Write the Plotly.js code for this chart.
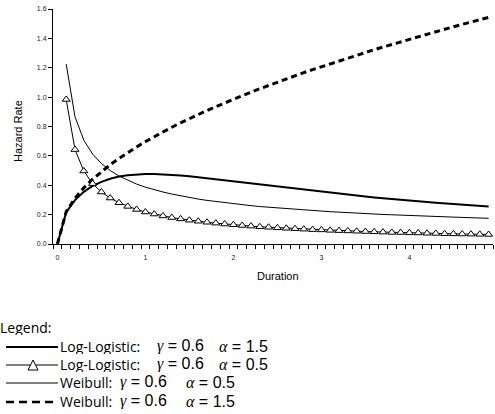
<!DOCTYPE html>
<html><head><meta charset="utf-8">
<script src="https://cdn.plot.ly/plotly-3.0.1.min.js"></script>
<style>html,body{margin:0;padding:0;background:#fff;}#chart{width:495px;height:414px;}</style>
</head><body><div id="chart"></div>
<script>
const duration = [0,0.1,0.2,0.3,0.4,0.5,0.6,0.7,0.8,0.9,1.0,1.1,1.2,1.3,1.4,1.5,1.6,1.7,1.8,1.9,2.0,2.1,2.2,2.3,2.4,2.5,2.6,2.7,2.8,2.9,3.0,3.1,3.2,3.3,3.4,3.5,3.6,3.7,3.8,3.9,4.0,4.1,4.2,4.3,4.4,4.5,4.6,4.7,4.8,4.9];
const logLogisticA15 = [0,0.217,0.299,0.355,0.395,0.423,0.444,0.459,0.468,0.474,0.476,0.476,0.474,0.471,0.466,0.461,0.454,0.448,0.441,0.433,0.426,0.418,0.411,0.403,0.396,0.389,0.381,0.374,0.367,0.360,0.354,0.347,0.341,0.335,0.328,0.323,0.317,0.311,0.306,0.301,0.296,0.291,0.286,0.281,0.277,0.272,0.268,0.264,0.259,0.256];
const logLogisticA05 = [null,0.984,0.643,0.497,0.411,0.354,0.313,0.281,0.256,0.235,0.218,0.204,0.191,0.180,0.171,0.162,0.155,0.148,0.142,0.136,0.131,0.126,0.122,0.117,0.114,0.110,0.107,0.104,0.101,0.098,0.096,0.093,0.091,0.089,0.087,0.085,0.083,0.081,0.079,0.078,0.076,0.075,0.073,0.072,0.070,0.069,0.068,0.067,0.066,0.065];
const weibullA05 = [null,1.225,0.866,0.707,0.612,0.548,0.500,0.463,0.433,0.408,0.387,0.369,0.354,0.340,0.327,0.316,0.306,0.297,0.289,0.281,0.274,0.267,0.261,0.255,0.250,0.245,0.240,0.236,0.231,0.227,0.224,0.220,0.217,0.213,0.210,0.207,0.204,0.201,0.199,0.196,0.194,0.191,0.189,0.187,0.185,0.183,0.181,0.179,0.177,0.175];
const weibullA15 = [0,0.220,0.312,0.382,0.441,0.493,0.540,0.583,0.624,0.661,0.697,0.731,0.764,0.795,0.825,0.854,0.882,0.909,0.935,0.961,0.986,1.010,1.034,1.057,1.080,1.102,1.124,1.146,1.167,1.187,1.207,1.227,1.247,1.266,1.285,1.304,1.323,1.341,1.359,1.377,1.394,1.412,1.429,1.446,1.462,1.479,1.495,1.511,1.527,1.543];
const xTickVals = [0,1,2,3,4];
const xTickText = ['0','1','2','3','4'];
const yTickVals = [0,0.2,0.4,0.6,0.8,1.0,1.2,1.4,1.6];
const yTickText = ['0.0','0.2','0.4','0.6','0.8','1.0','1.2','1.4','1.6'];
const legendTitle = 'Legend:';
const legendNames = ['Log-Logistic:','Log-Logistic:','Weibull:','Weibull:'];
const legendGamma = ['0.6','0.6','0.6','0.6'];
const legendAlpha = ['1.5','0.5','0.5','1.5'];

const L = 53, T = 9, W = 440, H = 235;
const px = x => (x - L) / W;
const py = y => (T + H - y) / H;
const xRange = [-0.05, 4.95];
// Excel-style category axis: tick marks sit between categories, labels on categories
const step = duration[1] - duration[0];
const boundaryTicks = duration.map(d => d - step / 2).concat([duration[duration.length - 1] + step / 2]);

const traces = [
  {x: duration, y: logLogisticA15, mode: 'lines', line: {color: '#000', width: 2}},
  {x: duration, y: weibullA05, mode: 'lines', line: {color: '#000', width: 1}},
  {x: duration, y: weibullA15, mode: 'lines', line: {color: '#000', width: 3, dash: '6px,4px'}},
  {x: duration, y: logLogisticA05, xaxis: 'x2', mode: 'lines+markers', line: {color: '#000', width: 1},
   marker: {symbol: 'triangle-up', size: 7, color: '#fff', line: {color: '#000', width: 1}}}
];

const sansTick = {family: 'Liberation Sans, Arial, sans-serif', size: 7, color: '#222'};
const legFont = {family: 'Open Sans, sans-serif', size: 14, color: '#000'};
const numFont = {family: 'Liberation Sans, Arial, sans-serif', size: 16, color: '#000'};
const rowsY = [346, 364, 382, 401];
const gammaX = [156, 156, 119, 119];
const alphaX = [218, 218, 185, 185];

const annotations = [
  {text: 'Hazard Rate', x: px(18), y: py(131), xref: 'paper', yref: 'paper', showarrow: false, textangle: -90,
   font: {family: 'Liberation Sans, Arial, sans-serif', size: 11, color: '#000'}, xanchor: 'center', yanchor: 'middle'},
  {text: 'Duration', x: px(278), y: py(276), xref: 'paper', yref: 'paper', showarrow: false,
   font: {family: 'Liberation Sans, Arial, sans-serif', size: 11, color: '#000'}, xanchor: 'center', yanchor: 'middle'},
  {text: legendTitle, x: px(-1), y: py(327), xref: 'paper', yref: 'paper', showarrow: false, font: legFont,
   xanchor: 'left', yanchor: 'middle', borderpad: 0, height: 16}
];
const gSpan = '<span style="font-family:Liberation Serif, serif;font-style:italic">';
legendNames.forEach((n, i) => {
  const common = {y: py(rowsY[i]), xref: 'paper', yref: 'paper', showarrow: false, xanchor: 'left', yanchor: 'middle', borderpad: 0, height: 16};
  annotations.push(Object.assign({text: n, x: px(59), font: legFont}, common));
  annotations.push(Object.assign({text: gSpan + 'γ</span> = ' + legendGamma[i], x: px(gammaX[i]), font: numFont}, common));
  annotations.push(Object.assign({text: gSpan + 'α</span> = ' + legendAlpha[i], x: px(alphaX[i]), font: numFont}, common));
});

const seg = (y, w, dash) => ({type: 'line', xref: 'paper', yref: 'paper', x0: px(6), x1: px(58), y0: py(y), y1: py(y),
  line: {color: '#000', width: w, dash: dash || 'solid'}});
const shapes = [
  seg(rowsY[0] + 1, 2),
  seg(rowsY[1] + 1, 1),
  seg(rowsY[2] + 1, 1),
  seg(rowsY[3] + 1, 2.5, '8px,5px'),
  {type: 'path', xref: 'paper', yref: 'paper',
   path: 'M ' + px(28) + ' ' + py(rowsY[1] + 6) + ' L ' + px(38) + ' ' + py(rowsY[1] + 6) + ' L ' + px(33) + ' ' + py(rowsY[1] - 4) + ' Z',
   fillcolor: '#fff', line: {color: '#000', width: 1}}
];

const layout = {
  width: 495, height: 414,
  margin: {l: L, r: 495 - L - W, t: T, b: 414 - T - H, pad: 0},
  paper_bgcolor: '#fff', plot_bgcolor: '#fff',
  showlegend: false,
  xaxis: {range: xRange, tickmode: 'array', tickvals: boundaryTicks, showticklabels: false,
    ticks: 'outside', ticklen: 4, tickcolor: '#000', tickwidth: 1, showline: true, linecolor: '#000', linewidth: 1,
    showgrid: false, zeroline: false},
  xaxis2: {range: xRange, overlaying: 'x', anchor: 'y', side: 'bottom', tickmode: 'array', tickvals: xTickVals, ticktext: xTickText,
    ticks: '', showline: false, showgrid: false, zeroline: false, tickfont: sansTick, ticklabelstandoff: 8},
  yaxis: {range: [0, 1.6], tickmode: 'array', tickvals: yTickVals, ticktext: yTickText,
    ticks: 'outside', ticklen: 4, tickcolor: '#000', showline: true, linecolor: '#000', linewidth: 1,
    showgrid: false, zeroline: false, tickfont: sansTick},
  annotations: annotations,
  shapes: shapes
};

Plotly.newPlot('chart', traces, layout, {staticPlot: true, displayModeBar: false});
</script></body></html>
